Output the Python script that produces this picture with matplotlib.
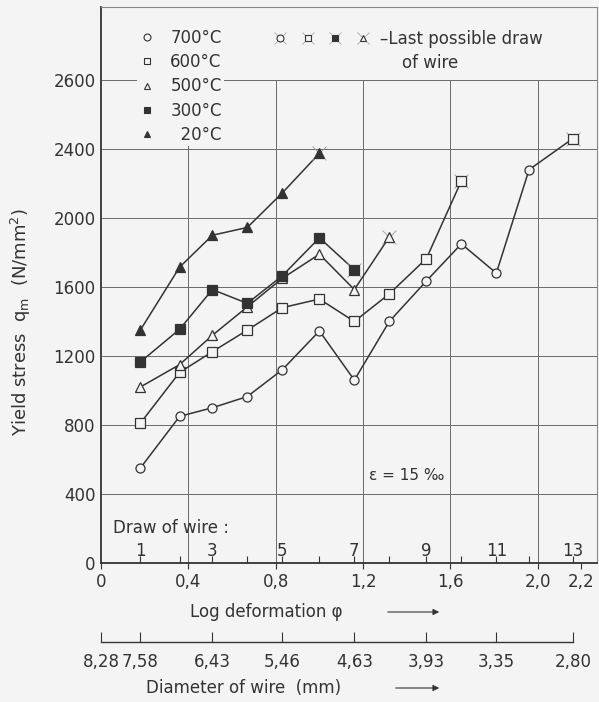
import numpy as np
import matplotlib.pyplot as plt
from matplotlib.lines import Line2D
from matplotlib.legend_handler import HandlerTuple

#
# data
#
phi_draw = [0.18, 0.36, 0.51, 0.67, 0.83, 1.00, 1.16, 1.32, 1.49, 1.65, 1.81, 1.96, 2.16]
draw_numbers = [1, 3, 5, 7, 9, 11, 13]

ys_700 = [550, 850, 900, 965, 1120, 1345, 1060, 1400, 1635, 1850, 1680, 2280, 2460]
ys_600 = [810, 1105, 1225, 1350, 1480, 1530, 1400, 1560, 1765, 2215]
ys_500 = [1020, 1150, 1320, 1485, 1650, 1790, 1585, 1890]
ys_300 = [1165, 1355, 1585, 1505, 1665, 1885, 1700]
ys_20 = [1350, 1715, 1900, 1945, 2145, 2375]

temps = ['700°C', '600°C', '500°C', '300°C', '  20°C']
markers = ['o', 's', '^', 's', '^']
filled = [False, False, False, True, True]
last_marker = ['s', 's', '^', 's', '^']   # symbol used at the last possible draw

y_ticks = [0, 400, 800, 1200, 1600, 2000, 2400, 2800]
y_ticklabels = ['0', '400', '800', '1200', '1600', '2000', '2400', '2600']
x_ticks = [0, 0.4, 0.8, 1.2, 1.6, 2.0, 2.2]
x_ticklabels = ['0', '0,4', '0,8', '1,2', '1,6', '2,0', '2,2']
diam_labels = ['8,28', '7,58', '6,43', '5,46', '4,63', '3,93', '3,35', '2,80']

BG = '#f4f4f4'
INK = '#333333'
GRID = '#6a6a6a'
SPIKE = '#9a9a9a'
W, H = 599, 702

plt.rcParams['font.family'] = ['DejaVu Sans']
plt.rcParams['mathtext.default'] = 'regular'
plt.rcParams['text.color'] = INK

fig = plt.figure(figsize=(W / 100, H / 100), dpi=100, facecolor=BG)
ax = fig.add_axes([101 / W, 1 - 563 / H, 496 / W, 556 / H], facecolor=BG)

xmax = 2.271
ax.set_xlim(0, xmax)
ax.set_ylim(0, 3223)

# grid, drawn by hand so vertical lines stop at the top gridline
ax.vlines([0.4, 0.8, 1.2, 1.6, 2.0], 0, 2800, color=GRID, lw=0.7, zorder=1)
ax.hlines(y_ticks[1:], 0, xmax, color=GRID, lw=0.7, zorder=1)

all_ys = [ys_700, ys_600, ys_500, ys_300, ys_20]
for ys, m, f, lm in zip(all_ys, markers, filled, last_marker):
    xs = phi_draw[:len(ys)]
    fc = INK if f else BG
    ax.plot(xs, ys, '-', color=INK, lw=1.1, zorder=3)
    ax.plot(xs[:-1], ys[:-1], m, ms=6.5, mfc=fc, mec=INK, mew=0.9, zorder=4)
    # last possible draw: symbol with small corner spikes
    ax.plot(xs[-1:], ys[-1:], 'x', ms=10, mec=SPIKE, mew=0.6, zorder=4)
    ax.plot(xs[-1:], ys[-1:], lm, ms=6.5, mfc=fc, mec=INK, mew=0.9, zorder=5)

# axes styling
for s in ['left', 'bottom']:
    ax.spines[s].set_color(INK)
    ax.spines[s].set_linewidth(1.3)
for s in ['top', 'right']:
    ax.spines[s].set_color('#888888')
    ax.spines[s].set_linewidth(0.8)

ax.set_yticks(y_ticks)
ax.set_yticklabels(y_ticklabels, fontsize=12)
ax.tick_params(axis='y', length=0, pad=4, labelcolor=INK)
ax.set_xticks(x_ticks)
ax.set_xticklabels(x_ticklabels, fontsize=12)
ax.tick_params(axis='x', which='major', length=4, direction='out', width=0.8,
               pad=3, color=INK, labelcolor=INK)
ax.set_xticks(phi_draw, minor=True)
ax.tick_params(axis='x', which='minor', length=5, direction='in', width=0.8, color=INK)

ax.set_ylabel('Yield stress  q$_{ m}$  (N/mm$^2$)', fontsize=13, color=INK)
ax.yaxis.set_label_coords(-0.137, 0.433)

# draw numbers
ax.text(0.055, 203, 'Draw of wire :', fontsize=12, ha='left', va='center')
for n in draw_numbers:
    ax.text(phi_draw[n - 1], 68, str(n), fontsize=12, ha='center', va='center')

ax.text(1.227, 510, 'ε = 15 ‰', fontsize=11, ha='left', va='center')

# legend of temperatures
handles = []
for m, f in zip(markers, filled):
    handles.append(Line2D([], [], ls='none', marker=m, ms=5,
                          mfc=INK if f else BG, mec=INK, mew=0.8))
leg = ax.legend(handles, temps, loc='upper left', bbox_to_anchor=(137 / W, 1 - 27 / H),
                bbox_transform=fig.transFigure, fontsize=12, numpoints=1,
                handlelength=1.0, handletextpad=0.9, labelspacing=0.38,
                borderpad=0.1, borderaxespad=0, frameon=True, fancybox=False)
leg.get_frame().set_facecolor(BG)
leg.get_frame().set_edgecolor('none')
leg.get_frame().set_alpha(1)
leg.set_zorder(6)
ax.add_artist(leg)

# legend of last-draw symbols
last_handles = []
for lm, f in zip(['o', 's', 's', '^'], [False, False, True, False]):
    spike = Line2D([], [], ls='none', marker='x', ms=8, mec=SPIKE, mew=0.5)
    sym = Line2D([], [], ls='none', marker=lm, ms=5,
                 mfc=INK if f else BG, mec=INK, mew=0.8)
    last_handles.append((spike, sym))
leg2 = ax.legend(last_handles, ['', '', '', '–Last possible draw'], ncol=4,
                 loc='upper left', bbox_to_anchor=(272 / W, 1 - 30 / H),
                 bbox_transform=fig.transFigure, fontsize=12, numpoints=1,
                 handlelength=1.0, handletextpad=0.5, columnspacing=0.15,
                 borderpad=0, borderaxespad=0, frameon=False,
                 handler_map={tuple: HandlerTuple(ndivide=1, pad=0)})
fig.text(430 / W, 1 - 63 / H, 'of wire', fontsize=12, ha='center', va='center')

# axis titles with arrows
fig.text(190 / W, 1 - 612 / H, 'Log deformation φ', fontsize=12, ha='left', va='center')
ax.annotate('', xy=(442 / W, 1 - 612 / H), xytext=(385 / W, 1 - 612 / H),
            xycoords='figure fraction', textcoords='figure fraction',
            arrowprops=dict(arrowstyle='-|>', lw=0.8, color=INK, mutation_scale=9))
fig.text(146 / W, 1 - 688 / H, 'Diameter of wire  (mm)', fontsize=12, ha='left', va='center')
ax.annotate('', xy=(442 / W, 1 - 688 / H), xytext=(393 / W, 1 - 688 / H),
            xycoords='figure fraction', textcoords='figure fraction',
            arrowprops=dict(arrowstyle='-|>', lw=0.8, color=INK, mutation_scale=9))

# second scale: wire diameter
ax2 = fig.add_axes([101 / W, 1 - 642 / H, 496 / W, 0.0001], facecolor='none')
ax2.set_xlim(0, xmax)
for s in ['left', 'right', 'top']:
    ax2.spines[s].set_visible(False)
diam_phi = [0] + phi_draw[0::2]
ax2.spines['bottom'].set_bounds(0, diam_phi[-1])
ax2.spines['bottom'].set_color(INK)
ax2.spines['bottom'].set_linewidth(1.0)
ax2.set_yticks([])
ax2.set_xticks(diam_phi)
ax2.set_xticklabels(diam_labels, fontsize=12)
ax2.tick_params(axis='x', direction='in', length=7, width=0.8, pad=8,
                color=INK, labelcolor=INK)

fig.savefig('out.png', dpi=100, facecolor=BG)
